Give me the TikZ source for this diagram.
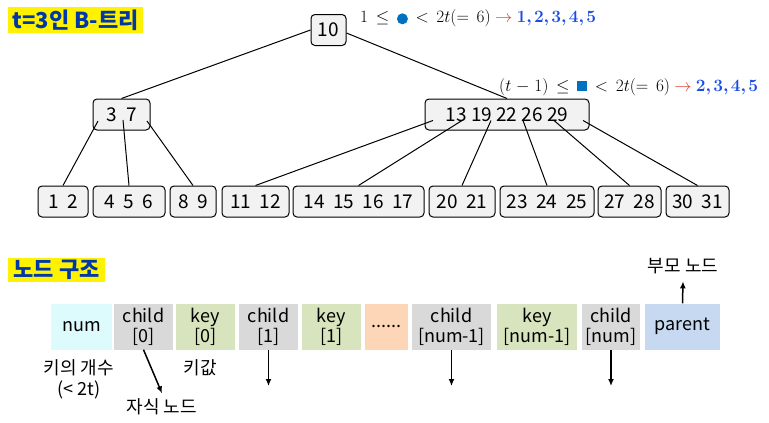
\documentclass[tikz,border=0pt]{standalone}
\usepackage{amsmath}
\usepackage{fontspec}
\setmainfont{Noto Sans CJK KR}
\usepackage{xcolor}
\usetikzlibrary{arrows.meta}

\definecolor{titleblue}{RGB}{0,56,168}
\definecolor{keyblue}{RGB}{25,75,230}
\definecolor{markblue}{RGB}{0,112,192}
\definecolor{arrowred}{RGB}{230,60,40}
\definecolor{boxgray}{RGB}{242,242,242}
\definecolor{numcyan}{RGB}{221,250,252}
\definecolor{childgray}{RGB}{217,217,217}
\definecolor{keygreen}{RGB}{216,228,190}
\definecolor{dotpeach}{RGB}{252,214,182}
\definecolor{parentblue}{RGB}{198,217,241}

\newcommand{\widemath}{\thickmuskip=8mu\relax\medmuskip=5mu\relax}

\tikzset{
    treenode/.style={draw, line width=1pt, rounded corners=4pt, fill=boxgray,
        minimum height=31, inner sep=0pt, font=\fontsize{19}{22}\selectfont},
    cell/.style={minimum height=46, inner sep=0pt, align=center,
        font=\fontsize{18}{20}\selectfont},
    heading/.style={fill=yellow, text=titleblue, inner sep=0pt},
    ptr/.style={-{Latex[length=7pt,width=6pt]}, line width=1.5pt},
    note/.style={font=\fontsize{18}{21}\selectfont},
    mathnote/.style={font=\fontsize{19}{22}\selectfont\widemath, inner sep=0pt}
}

\newcommand{\bluedot}{\tikz[baseline=-3.5pt]\fill[markblue] (0,0) circle (5.5pt);}
\newcommand{\bluesq}{\tikz[baseline=0pt]\fill[markblue] (0,0) rectangle (10pt,10pt);}
\newcommand{\gap}{\hspace{0.45em}}
\newcommand{\cm}{{,}\mkern2mu}

\begin{document}
\begin{tikzpicture}[x=1pt, y=-1pt]
    \useasboundingbox (0,0) rectangle (769,423);

    % titles
    \node[heading, minimum width=135, minimum height=26, font=\fontsize{22}{24}\selectfont\bfseries] (ttree) at (75.5,20) {t=3인 B-트리};
    \node[heading, minimum width=97, minimum height=24, font=\fontsize{22}{24}\selectfont\bfseries] (tstruct) at (56.5,270) {노드 구조};

    % tree nodes
    \node[treenode, minimum width=35] (root) at (328.5,30) {10};
    \node[treenode, minimum width=57] (n37) at (121.5,114.5) {3\hspace{0.5em}7};
    \node[treenode, minimum width=164] (big) at (507,114.5) {13 19 22 26 29};

    \node[treenode, minimum width=50] (lf12) at (63,201.5) {1\gap 2};
    \node[treenode, minimum width=72] (lf456) at (129,201.5) {4\gap 5\gap 6};
    \node[treenode, minimum width=46] (lf89) at (193,201.5) {8\gap 9};
    \node[treenode, minimum width=67] (lf1112) at (255.5,201.5) {11\gap 12};
    \node[treenode, minimum width=131] (lf14) at (358.5,201.5) {14\gap 15\gap 16\gap 17};
    \node[treenode, minimum width=66] (lf2021) at (462,201.5) {20\gap 21};
    \node[treenode, minimum width=94] (lf2325) at (547,201.5) {23\gap 24\gap 25};
    \node[treenode, minimum width=63] (lf2728) at (629.5,201.5) {27\gap 28};
    \node[treenode, minimum width=63] (lf3031) at (697.5,201.5) {30\gap 31};

    % root -> children
    \draw[line width=1pt] (root.west) -- (n37.north);
    \draw[line width=1pt] ([yshift=-3]root.east) -- (big.north);

    % 3 7 -> leaves
    \draw[line width=1pt] ([xshift=-23.5,yshift=-6.5]n37.center) -- (lf12.north);
    \draw[line width=1pt] ([xshift=1.5,yshift=-5.5]n37.center) -- (lf456.north);
    \draw[line width=1pt] ([xshift=25.5,yshift=-6.5]n37.center) -- (lf89.north);

    % 13 19 22 26 29 -> leaves
    \foreach \dx/\leaf in {-74/lf1112, -45/lf14, -16/lf2021, 16/lf2325, 47/lf2728, 76/lf3031}
        \draw[line width=1pt] ([xshift=\dx,yshift=-6]big.center) -- (\leaf.north);

    % key ranges
    \node[mathnote, anchor=west] (rangeroot) at (360,18)
        {$1 \le \bluedot < 2t(=6)$ \textcolor{arrowred}{$\rightarrow$} \textcolor{keyblue}{$\boldsymbol{1\cm2\cm3\cm4\cm5}$}};
    \node[mathnote, anchor=west] (rangenode) at (499,87)
        {$(t-1) \le \bluesq < 2t(=6)$ \textcolor{arrowred}{$\rightarrow$} \textcolor{keyblue}{$\boldsymbol{2\cm3\cm4\cm5}$}};

    % node structure
    \node[cell, fill=numcyan, minimum width=61] (num) at (81.5,326.5) {num};
    \node[cell, fill=childgray, minimum width=59] (ch0) at (143.5,326.5) {child\\{[0]}};
    \node[cell, fill=keygreen, minimum width=59] (key0) at (205.5,326.5) {key\\{[0]}};
    \node[cell, fill=childgray, minimum width=59] (ch1) at (268.5,326.5) {child\\{[1]}};
    \node[cell, fill=keygreen, minimum width=59] (key1) at (331.5,326.5) {key\\{[1]}};
    \node[cell, fill=dotpeach, minimum width=43] (dots) at (386.5,326.5) {......};
    \node[cell, fill=childgray, minimum width=79] (chn1) at (451.5,326.5) {child\\{[num-1]}};
    \node[cell, fill=keygreen, minimum width=80] (keyn1) at (537,326.5) {key\\{[num-1]}};
    \node[cell, fill=childgray, minimum width=58] (chn) at (611,326.5) {child\\{[num]}};
    \node[cell, fill=parentblue, minimum width=75] (par) at (682.5,326.5) {parent};

    % labels
    \node[note, align=center] (lbnum) at (79,379) {키의 개수\\(< 2t)};
    \node[note] (lbkey) at (200,368) {키값};
    \node[note] (lbchild) at (162,407) {자식 노드};
    \node[note] (lbparent) at (683,266) {부모 노드};

    % pointers
    \coordinate (end1) at (268.5,386);
    \coordinate (endn1) at (451.5,386);
    \coordinate (endn) at (611,386);
    \draw[ptr] (ch0.south) -- ([yshift=2]lbchild.north);
    \draw[ptr] (ch1.south) -- (end1);
    \draw[ptr] (chn1.south) -- (endn1);
    \draw[ptr] (chn.south) -- (endn);
    \draw[ptr] (par.north) -- ([yshift=-4]lbparent.south);
\end{tikzpicture}
\end{document}
